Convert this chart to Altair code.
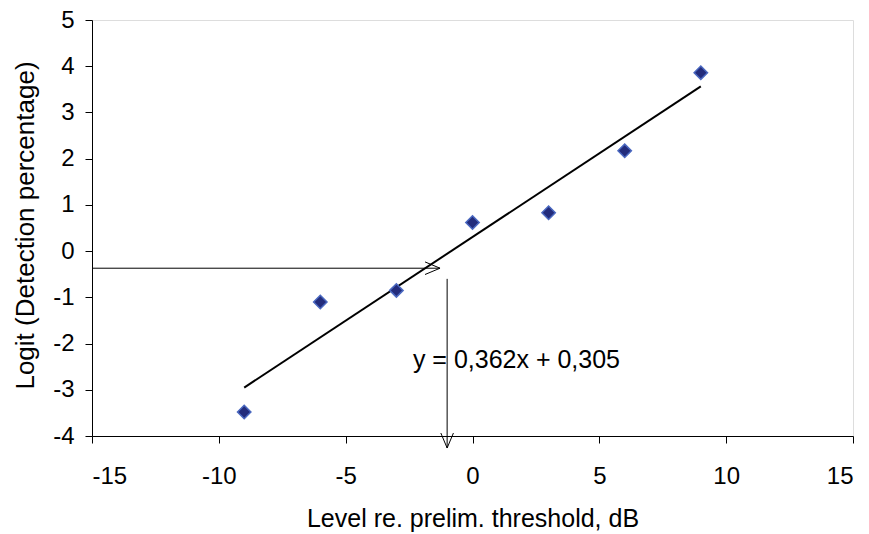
import altair as alt
import pandas as pd

# data
levels = [-9, -6, -3, 0, 3, 6, 9]
logits = [-3.48, -1.10, -0.85, 0.62, 0.83, 2.17, 3.86]
slope, intercept = 0.362, 0.305
equation = "y = 0,362x + 0,305"
eq_pos = (-2.35, -2.53)

# guide arrows (data units)
h_arrow_x = [-15, -1.28]
h_arrow_y = -0.37
v_arrow_x = -1.0
v_arrow_y = [-0.6, -4.26]

x_ticks = [-15, -10, -5, 0, 5, 10, 15]
y_ticks = [-4, -3, -2, -1, 0, 1, 2, 3, 4, 5]

FONT = "Liberation Sans"

pts = pd.DataFrame({"x": levels, "y": logits})
trend = pd.DataFrame({"x": [levels[0], levels[-1]],
                      "y": [slope * levels[0] + intercept, slope * levels[-1] + intercept]})
harrow = pd.DataFrame({"x": h_arrow_x, "y": [h_arrow_y, h_arrow_y]})
varrow = pd.DataFrame({"x": [v_arrow_x, v_arrow_x], "y": v_arrow_y})
hhead = pd.DataFrame({"x": [h_arrow_x[1]], "y": [h_arrow_y]})
vhead = pd.DataFrame({"x": [v_arrow_x], "y": [v_arrow_y[1]]})
label = pd.DataFrame({"x": [eq_pos[0]], "y": [eq_pos[1]], "t": [equation]})

xscale = alt.Scale(domain=[-15, 15], nice=False, zero=False)
yscale = alt.Scale(domain=[-4, 5], nice=False, zero=False)

xaxis = alt.Axis(title="Level re. prelim. threshold, dB", values=x_ticks,
                 labelExpr="'' + datum.value",
                 grid=False, domainColor="black", tickColor="black", tickSize=7,
                 labelFont=FONT, labelFontSize=24, labelColor="black", labelPadding=21,
                 titleFont=FONT, titleFontSize=25, titleFontWeight="normal", titleColor="black",
                 titleBaseline="alphabetic", titleY=90)
yaxis = alt.Axis(title="Logit (Detection percentage)", values=y_ticks,
                 labelExpr="'' + datum.value",
                 grid=False, domainColor="black", tickColor="black", tickSize=7,
                 labelFont=FONT, labelFontSize=24, labelColor="black", labelPadding=11,
                 titleFont=FONT, titleFontSize=26, titleFontWeight="normal", titleColor="black",
                 titleX=-59, titleY=205, titleBaseline="alphabetic", titleAlign="center",
                 titleAngle=270)

base_x = alt.X("x:Q", scale=xscale, axis=xaxis)
base_y = alt.Y("y:Q", scale=yscale, axis=yaxis)

trend_line = alt.Chart(trend).mark_line(color="black", strokeWidth=2).encode(x=base_x, y=base_y)
h_line = alt.Chart(harrow).mark_line(color="black", strokeWidth=1).encode(x="x:Q", y="y:Q")
v_line = alt.Chart(varrow).mark_line(color="black", strokeWidth=1).encode(x="x:Q", y="y:Q")
h_head = alt.Chart(hhead).mark_point(shape="M-1,-0.42L0,0L-1,0.42", size=900, filled=False,
                                     color="black", strokeWidth=1, opacity=1).encode(x="x:Q", y="y:Q")
v_head = alt.Chart(vhead).mark_point(shape="M-0.42,-1L0,0L0.42,-1", size=900, filled=False,
                                     color="black", strokeWidth=1, opacity=1).encode(x="x:Q", y="y:Q")
points = alt.Chart(pts).mark_point(shape="diamond", size=180, filled=True, fill="#232c7c",
                                   stroke="#4a68c0", strokeWidth=1.5, opacity=1).encode(x="x:Q", y="y:Q")
text = alt.Chart(label).mark_text(align="left", baseline="alphabetic", font=FONT, fontSize=25,
                                  color="black").encode(x="x:Q", y="y:Q", text="t:N")

chart = alt.layer(trend_line, h_line, v_line, h_head, v_head, points, text).properties(
    width=761, height=416,
    padding={"left": 84, "top": 12, "right": 8, "bottom": 98},
    autosize="none",
).configure_view(stroke="#9a9a9a", strokeWidth=1.5).configure(background="white")

chart.save("out.html", embed_options={"renderer": "svg", "actions": False})
